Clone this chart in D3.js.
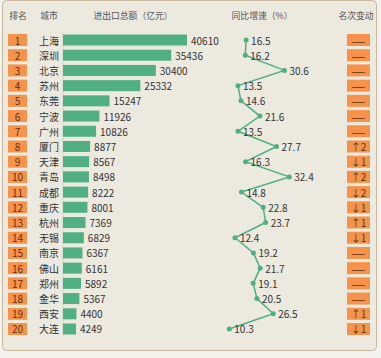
<!DOCTYPE html>
<html><head><meta charset="utf-8">
<script src="https://cdn.jsdelivr.net/npm/d3@7"></script>
<style>html,body{margin:0;padding:0;background:#f4f2ec;}svg{display:block;}</style>
</head><body>
<svg id="c" width="381" height="358"></svg>
<script>
const ranks = [1,2,3,4,5,6,7,8,9,10,11,12,13,14,15,16,17,18,19,20];
const cities = ["上海","深圳","北京","苏州","东莞","宁波","广州","厦门","天津","青岛","成都","重庆","杭州","无锡","南京","佛山","郑州","金华","西安","大连"];
const totals = [40610,35436,30400,25332,15247,11926,10826,8877,8567,8498,8222,8001,7369,6829,6367,6161,5892,5367,4400,4249];
const growth = [16.5,16.2,30.6,13.5,14.6,21.6,13.5,27.7,16.3,32.4,14.8,22.8,23.7,12.4,19.2,21.7,19.1,20.5,26.5,10.3];
const changes = ["—","—","—","—","—","—","—","↑2","↓1","↑2","↓2","↓1","↑1","↓1","—","—","—","—","↑1","↓1"];
const headers = ["排名","城市","进出口总额（亿元）","同比增速（%）","名次变动"];

const svg = d3.select("#c");
const font = "'Noto Sans CJK SC','Noto Sans',sans-serif";

svg.append("rect").attr("x",2.5).attr("y",0.5).attr("width",374).attr("height",350)
  .attr("rx",4).attr("fill","#ece9df").attr("stroke","#c9b79f").attr("stroke-width",1);

const y = d3.scaleBand().domain(ranks).range([32.4, 336.6]).padding(0);
const yc = r => y(r) + y.bandwidth()/2;
const x = d3.scaleLinear().domain([0, 40610]).range([63, 187]);
const xg = d3.scaleLinear().domain([0, 40]).range([201.3, 309.9]);

// headers
const hx = [18, 49, 133, 262, 356];
svg.selectAll("text.h").data(headers).join("text").attr("class","h")
  .attr("x",(d,i)=>hx[i]).attr("y",15).attr("text-anchor","middle").attr("dominant-baseline","central")
  .attr("font-family",font).attr("font-size",8.8).attr("fill","#555").text(d=>d);

const rows = ranks.map((r,i)=>({r, city:cities[i], total:totals[i], g:growth[i], ch:changes[i]}));

// rank boxes
svg.selectAll("rect.rk").data(rows).join("rect").attr("class","rk")
  .attr("x",8).attr("y",d=>yc(d.r)-6).attr("width",19).attr("height",12).attr("fill","#f7924b");
svg.selectAll("text.rk").data(rows).join("text").attr("class","rk")
  .attr("x",17.5).attr("y",d=>yc(d.r)).attr("text-anchor","middle").attr("dominant-baseline","central")
  .attr("font-family",font).attr("font-size",10).attr("fill","#5b3512").text(d=>d.r);

// cities
svg.selectAll("text.city").data(rows).join("text").attr("class","city")
  .attr("x",49).attr("y",d=>yc(d.r)).attr("text-anchor","middle").attr("dominant-baseline","central")
  .attr("font-family",font).attr("font-size",10).attr("fill","#333").text(d=>d.city);

// axis line
svg.append("line").attr("x1",x(0)).attr("x2",x(0)).attr("y1",y.range()[0]).attr("y2",y.range()[1])
  .attr("stroke","#d0d6cc").attr("stroke-width",1);

// bars
svg.selectAll("rect.bar").data(rows).join("rect").attr("class","bar")
  .attr("x",x(0)).attr("y",d=>yc(d.r)-5.5).attr("width",d=>x(d.total)-x(0)).attr("height",11)
  .attr("fill","#50b083");
svg.selectAll("text.bl").data(rows).join("text").attr("class","bl")
  .attr("x",d=>x(d.total)+4).attr("y",d=>yc(d.r)).attr("dominant-baseline","central")
  .attr("font-family",font).attr("font-size",10).attr("fill","#333").text(d=>d.total);

// growth line
const line = d3.line().x(d=>xg(d.g)).y(d=>yc(d.r));
svg.append("path").datum(rows).attr("d",line).attr("fill","none").attr("stroke","#4fae82").attr("stroke-width",1.5);
svg.selectAll("circle.pt").data(rows).join("circle").attr("class","pt")
  .attr("cx",d=>xg(d.g)).attr("cy",d=>yc(d.r)).attr("r",2.5).attr("fill","#4fae82");
svg.selectAll("text.gl").data(rows).join("text").attr("class","gl")
  .attr("x",d=>xg(d.g)+5).attr("y",d=>yc(d.r)).attr("dominant-baseline","central")
  .attr("font-family",font).attr("font-size",10).attr("fill","#333").text(d=>d.g.toFixed(1));

// change boxes
svg.selectAll("rect.ch").data(rows).join("rect").attr("class","ch")
  .attr("x",347).attr("y",d=>yc(d.r)-6).attr("width",23).attr("height",12).attr("fill","#f7924b");
svg.selectAll("text.ch").data(rows).join("text").attr("class","ch")
  .attr("x",d=>d.ch==="—"?351.5:358.5).attr("y",d=>yc(d.r)).attr("text-anchor",d=>d.ch==="—"?"start":"middle")
  .attr("dominant-baseline","central")
  .attr("font-family",font).attr("font-size",10).attr("fill","#5b3512")
  .each(function(d){ if(d.ch==="—") d3.select(this).attr("textLength",14).attr("lengthAdjust","spacingAndGlyphs"); })
  .text(d=>d.ch);
</script>
</body></html>
